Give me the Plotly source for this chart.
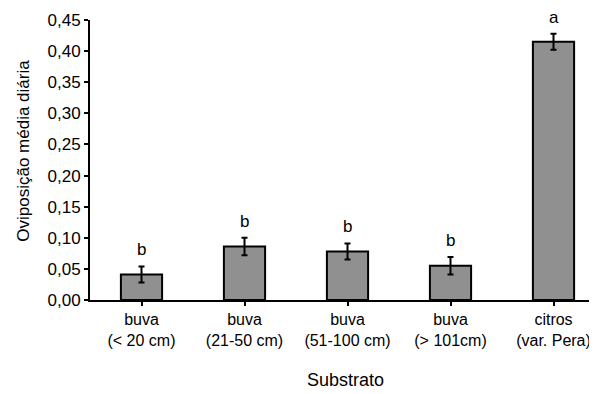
import plotly.graph_objects as go

categories = ["buva<br>(< 20 cm)", "buva<br>(21-50 cm)", "buva<br>(51-100 cm)", "buva<br>(> 101cm)", "citros<br>(var. Pera)"]
means = [0.041, 0.086, 0.078, 0.055, 0.415]
errors = [0.013, 0.014, 0.013, 0.014, 0.013]
letters = ["b", "b", "b", "b", "a"]
y_ticks = [0.0, 0.05, 0.10, 0.15, 0.20, 0.25, 0.30, 0.35, 0.40, 0.45]
x_title = "Substrato"
y_title = "Oviposição média diária"

FONT = "Liberation Sans, Arial, sans-serif"

fig = go.Figure()
fig.add_trace(go.Bar(
    x=list(range(len(categories))),
    y=means,
    width=0.4,
    marker=dict(color="#909090", line=dict(color="black", width=2)),
    error_y=dict(type="data", array=errors, visible=True, color="black", thickness=2, width=3),
))

for i, (m, e, l) in enumerate(zip(means, errors, letters)):
    fig.add_annotation(x=i, y=m + e, text=l, showarrow=False, yanchor="bottom",
                       yshift=5, font=dict(family=FONT, size=17, color="black"))

# axis titles as annotations for exact placement
fig.add_annotation(xref="paper", yref="paper", x=-0.1307, y=0.532, text=y_title,
                   textangle=-90, showarrow=False, xanchor="center", yanchor="middle",
                   font=dict(family=FONT, size=17, color="black"))
fig.add_annotation(xref="paper", yref="paper", x=0.497, y=-0.2857, text=x_title,
                   showarrow=False, xanchor="center", yanchor="middle",
                   font=dict(family=FONT, size=18, color="black"))

fig.update_layout(
    width=597, height=394,
    margin=dict(l=82, r=0, t=12, b=102),
    paper_bgcolor="white", plot_bgcolor="white",
    separators=",.",
    showlegend=False,
    font=dict(family=FONT, color="black"),
)
fig.update_xaxes(
    tickmode="array", tickvals=list(range(len(categories))), ticktext=categories,
    range=[-0.5, 4.5],
    showline=True, linecolor="black", linewidth=2,
    ticks="outside", tickson="boundaries", ticklen=4, tickwidth=1.5, tickcolor="black",
    showgrid=False, zeroline=False,
    tickfont=dict(family=FONT, size=16, color="black"),
)
fig.update_yaxes(
    range=[0, 0.45], tickvals=y_ticks, tickformat=".2f",
    showline=True, linecolor="black", linewidth=2,
    ticks="outside", ticklen=4, tickwidth=1.5, tickcolor="black",
    showgrid=False, zeroline=False,
    tickfont=dict(family=FONT, size=17, color="black"),
)

fig.write_html("out.html")
